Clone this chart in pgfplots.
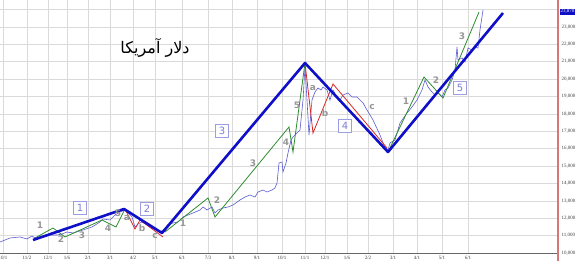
\documentclass[border=0pt]{standalone}
\usepackage{fontspec}
\setmainfont{Liberation Serif}
\newfontfamily\labfont{DejaVu Sans}
\newfontfamily\arabicfont[Script=Arabic]{DejaVu Sans}
\TeXXeTstate=1
\usepackage{pgfplots}
\pgfplotsset{compat=1.18}
\definecolor{thinblue}{RGB}{90,90,210}
\definecolor{thickblue}{RGB}{15,15,200}
\definecolor{wgreen}{RGB}{45,140,45}
\definecolor{wred}{RGB}{215,40,40}
\definecolor{lgrey}{RGB}{150,150,150}
\definecolor{boxblue}{RGB}{125,125,215}
\definecolor{gridc}{RGB}{218,218,218}
\definecolor{axred}{RGB}{215,120,120}
\begin{document}
\begin{tikzpicture}
\begin{axis}[at={(0,0)}, anchor=south west, scale only axis,
  width=558pt, height=253pt,
  xmin=0, xmax=558, ymin=10000, ymax=24540, clip=false,
  axis line style={draw=none},
  xtick={3,27,48,67,88,110,133,155,182,208,232,257,282,305,325,347,368,393,417,442,468},
  xticklabels={10/1,11/2,12/1,1/6,2/1,3/1,4/2,5/1,6/1,7/3,8/1,9/1,10/1,11/1,12/1,1/6,2/2,3/1,4/1,5/1,6/1},
  ytick={10000,11000,...,23000},
  extra y ticks={24000}, extra y tick labels={},
  yticklabel pos=right,
  grid=major, major grid style={gridc, line width=0.5pt},
  extra tick style={grid=major, major grid style={gridc, line width=0.5pt}},
  major tick length=0pt,
  tick label style={font=\fontsize{5}{6}\selectfont, text=black!75},
  scaled y ticks=false,
  y tick label style={/pgf/number format/.cd, fixed, 1000 sep={,}, assume math mode=true},
]
% price (thin)
\addplot[thinblue, line width=0.6pt] coordinates {
(0,10632)(10,10862)(20,10920)(27,10805)(32,10977)(35,10862)(43,10920)(50,11034)(57,11034)(62,11092)
(67,11207)(73,11149)(83,11322)(92,11494)(100,11782)(103,11954)(110,11897)(115,12184)(120,12356)(125,12471)
(132,12069)(135,11494)(138,11667)(142,11782)(147,11609)(152,11437)(157,11322)(160,11207)(163,11322)(168,11609)
(173,11724)(178,11782)(183,12069)(188,12184)(193,12299)(200,12471)(203,12644)(207,12471)(212,12644)(215,12299)
(218,12471)(223,12586)(228,12644)(233,12759)(240,13046)(245,13218)(250,13333)(255,13218)(258,13506)(263,13621)
(267,13506)(272,13621)(275,13736)(277,14023)(279,15172)(282,15230)(283,14655)(286,15172)(288,15747)(291,16494)
(293,16667)(297,16896)(300,17069)(303,18793)(305,20689)(307,18793)(309,16781)(312,18793)(315,19253)(318,19483)
(321,19368)(323,19540)(327,19368)(330,18793)(333,19368)(337,18965)(340,18793)(343,19080)(348,19195)(352,18965)
(357,18965)(360,18793)(363,18621)(367,18218)(370,17931)(373,17644)(380,16781)(385,16034)(388,15919)(390,16322)
(395,16494)(400,17471)(407,18046)(412,18391)(417,18793)(422,19368)(425,19942)(428,19540)(432,19253)(435,19080)
(438,19195)(442,18965)(445,19368)(448,19483)(452,19942)(455,20517)(457,21839)(458,21092)(462,21207)(465,20977)
(468,21781)(472,21666)(475,21839)(478,21781)(480,22816)(483,23965)};
% sub-waves
\addplot[wgreen, line width=0.8pt] coordinates {(35,10862)(53,11437)(65,10920)(102,11897)(116,11494)(125,12529)};
\addplot[wred, line width=0.8pt] coordinates {(125,12529)(135,11379)(140,11897)(163,10920)};
\addplot[wgreen, line width=0.8pt] coordinates {(165,11207)(208,13161)(215,12069)(289,17241)(293,15804)(305,20919)};
\addplot[wred, line width=0.8pt] coordinates {(305,20919)(313,16896)(333,19712)(387,16034)};
\addplot[wgreen, line width=0.8pt] coordinates {(388,15804)(424,20115)(443,18908)(479,23850)};
% main waves
\addplot[thickblue, line width=2.6pt, line join=round] coordinates {(33,10747)(124,12529)(162,11149)(305,20919)(388,15804)(503,23793)};
% axis lines
\draw[black!60, line width=0.8pt] (rel axis cs:0,0) -- (rel axis cs:1,0);
\draw[axred, line width=1.6pt] ([yshift=-8pt]rel axis cs:1,0) -- (rel axis cs:1,1);
\node[fill=thickblue, text=white, font=\fontsize{5}{6}\selectfont, inner sep=1pt, anchor=west] at (axis cs:559.5,23870) {23,870};
% sub-wave labels
\tikzset{wl/.style={text=lgrey, font=\labfont\bfseries\fontsize{9}{9}\selectfont, inner sep=0pt}}
\node[wl] at (axis cs:40,11609) {1};
\node[wl] at (axis cs:61,10805) {2};
\node[wl] at (axis cs:82,11034) {3};
\node[wl] at (axis cs:108,11437) {4};
\node[wl] at (axis cs:118,12299) {5};
\node[wl] at (axis cs:127,12011) {a};
\node[wl] at (axis cs:142,11437) {b};
\node[wl] at (axis cs:155,10977) {c};
\node[wl] at (axis cs:183,11724) {1};
\node[wl] at (axis cs:217,13046) {2};
\node[wl] at (axis cs:253,15172) {3};
\node[wl] at (axis cs:286,16379) {4};
\node[wl] at (axis cs:297,18506) {5};
\node[wl] at (axis cs:313,19483) {a};
\node[wl] at (axis cs:325,18046) {b};
\node[wl] at (axis cs:372,18391) {c};
\node[wl] at (axis cs:406,18735) {1};
\node[wl] at (axis cs:436,19942) {2};
\node[wl] at (axis cs:462,22471) {3};
% boxed wave numbers
\tikzset{bl/.style={draw=boxblue!75, line width=0.8pt, text=boxblue, fill=white, font=\labfont\fontsize{10}{10}\selectfont, inner sep=1pt, minimum size=12.5pt}}
\node[bl] at (axis cs:80,12586) {1};
\node[bl] at (axis cs:147,12529) {2};
\node[bl] at (axis cs:222,17011) {3};
\node[bl] at (axis cs:345,17299) {4};
\node[bl] at (axis cs:460,19483) {5};
% title
\node[font=\arabicfont\fontsize{16}{18}\selectfont] at (axis cs:155,21781) {\beginR دلار آمریکا\endR};
\end{axis}
\pgfresetboundingbox
\path[use as bounding box] (0pt,-8pt) rectangle (580pt,253pt);
\end{tikzpicture}
\end{document}
